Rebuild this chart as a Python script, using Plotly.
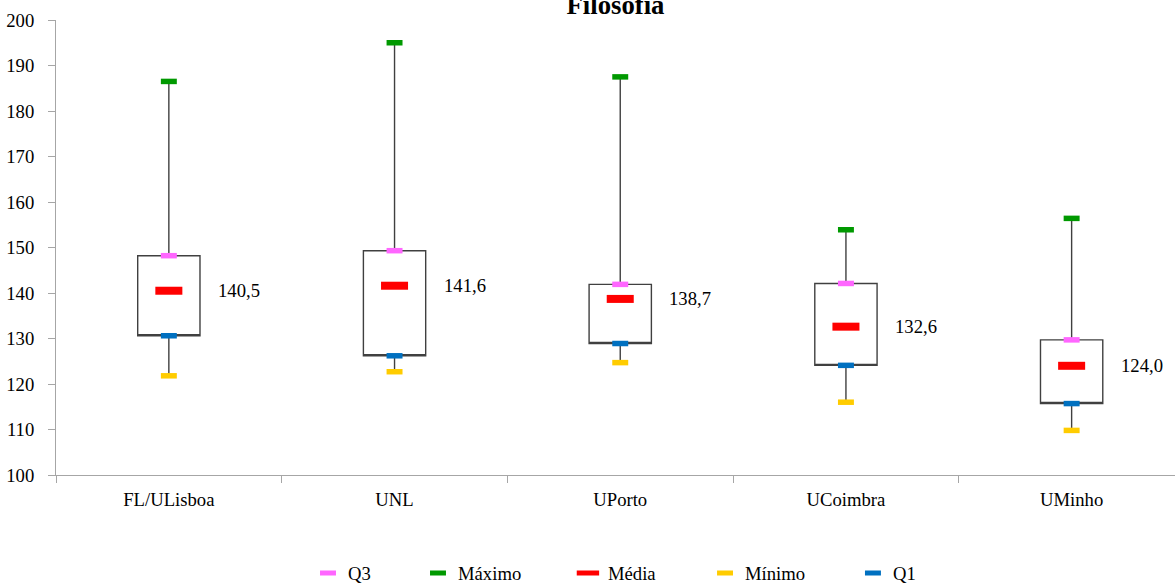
import plotly.graph_objects as go

categories = ["FL/ULisboa", "UNL", "UPorto", "UCoimbra", "UMinho"]
q1_vals = [130.6, 126.2, 128.9, 124.1, 115.7]
q3_vals = [148.2, 149.3, 141.9, 142.1, 129.7]
max_vals = [186.5, 195.0, 187.5, 153.9, 156.4]
min_vals = [121.8, 122.7, 124.7, 116.0, 109.8]
mean_vals = [140.5, 141.6, 138.7, 132.6, 124.0]
y_ticks = [100, 110, 120, 130, 140, 150, 160, 170, 180, 190, 200]

FONT = "Times New Roman, Liberation Serif, DejaVu Serif, serif"
FS = 18.67

fig = go.Figure()

fig.add_trace(go.Box(
    x=categories, q1=q1_vals, median=q1_vals, q3=q3_vals,
    lowerfence=min_vals, upperfence=max_vals,
    width=0.276, whiskerwidth=0, fillcolor="white",
    line=dict(color="#404040", width=1.4),
    boxpoints=False, showlegend=False, hoverinfo="skip",
))

series = [
    ("Q3", q3_vals, "#FF66FF", 11.4, 5.5, "legend"),
    ("Máximo", max_vals, "#009900", 11.4, 5.5, "legend2"),
    ("Média", mean_vals, "#FF0000", 19.3, 8, "legend3"),
    ("Mínimo", min_vals, "#FFCC00", 11.4, 5.5, "legend4"),
    ("Q1", q1_vals, "#0070C0", 11.4, 5.5, "legend5"),
]
for name, vals, col, sz, lw, lg in series:
    fig.add_trace(go.Scatter(
        x=categories, y=vals, mode="markers", name=name,
        marker=dict(symbol="line-ew", size=sz, color=col,
                    line=dict(color=col, width=lw)),
        legend=lg, hoverinfo="skip",
    ))

for c, m in zip(categories, mean_vals):
    fig.add_annotation(
        x=c, y=m, xref="x", yref="y",
        text=f"{m:.1f}".replace(".", ","),
        showarrow=False, xanchor="left", yanchor="middle", xshift=47,
        font=dict(family=FONT, size=FS, color="black"),
    )

legend_x = [0.2252, 0.3235, 0.4575, 0.5800, 0.7122]
leg_common = dict(orientation="h", yanchor="middle", y=-0.216, xanchor="left",
                  font=dict(family=FONT, size=FS, color="black"),
                  bgcolor="rgba(0,0,0,0)", itemsizing="trace")
layout_legends = {}
for i, lx in enumerate(legend_x):
    key = "legend" if i == 0 else f"legend{i+1}"
    layout_legends[key] = dict(leg_common, x=lx)

fig.update_layout(
    width=1175, height=583,
    margin=dict(l=56, r=0, t=20, b=108, autoexpand=False),
    paper_bgcolor="white", plot_bgcolor="white",
    font=dict(family=FONT, size=FS, color="black"),
    title=dict(text="<b>Filosofia</b>", x=615.5 / 1175, xref="container",
               xanchor="center", y=0.9916, yref="container", yanchor="middle",
               font=dict(family=FONT, size=26.7, color="black")),
    xaxis=dict(range=[-0.5, 4.458], showline=True, linecolor="#a6a6a6",
               linewidth=1, ticks="outside", tickson="boundaries",
               ticklen=7, tickcolor="#a6a6a6", showgrid=False,
               zeroline=False, ticklabelstandoff=8, automargin=False,
               tickfont=dict(family=FONT, size=FS, color="black")),
    yaxis=dict(range=[100, 200], tickvals=y_ticks, showline=True,
               linecolor="#a6a6a6", linewidth=1, ticks="outside",
               ticklen=7, tickcolor="#a6a6a6", showgrid=False,
               zeroline=False, ticklabelstandoff=10, automargin=False,
               tickfont=dict(family=FONT, size=FS, color="black")),
    showlegend=True,
    **layout_legends,
)

fig.write_html(
    "out.html",
    config={"displayModeBar": False},
    post_script="document.body.style.margin='0';document.body.style.padding='0';document.body.style.overflow='hidden';",
)
